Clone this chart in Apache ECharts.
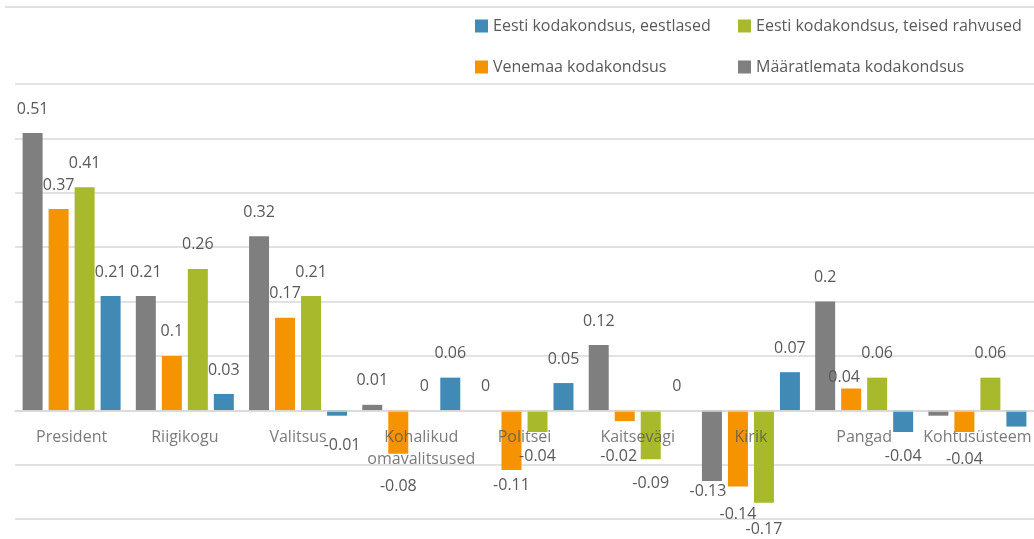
<!DOCTYPE html>
<html>
<head>
<meta charset="utf-8">
<script src="https://cdn.jsdelivr.net/npm/echarts@6/dist/echarts.min.js"></script>
<style>
  html, body { margin: 0; padding: 0; background: #fff; }
  #chart { width: 1034px; height: 539px; }
</style>
</head>
<body>
<div id="chart"></div>
<script>
// Institutions on the category axis
const categories = ['President', 'Riigikogu', 'Valitsus', 'Kohalikud\nomavalitsused', 'Politsei', 'Kaitsevägi', 'Kirik', 'Pangad', 'Kohtusüsteem'];

// Series names (bar order within each group)
const nameUndetermined = 'Määratlemata kodakondsus';
const nameRussian = 'Venemaa kodakondsus';
const nameOtherEthnic = 'Eesti kodakondsus, teised rahvused';
const nameEstonians = 'Eesti kodakondsus, eestlased';

// Values per group
const undetermined = [0.51, 0.21, 0.32, 0.01, 0, 0.12, -0.13, 0.2, -0.01];
const russian = [0.37, 0.1, 0.17, -0.08, -0.11, -0.02, -0.14, 0.04, -0.04];
const otherEthnic = [0.41, 0.26, 0.21, 0, -0.04, -0.09, -0.17, 0.06, 0.06];
const estonians = [0.21, 0.03, -0.01, 0.06, 0.05, 0, 0.07, -0.04, -0.03];

// Value axis range and step
const yMin = -0.2, yMax = 0.6, yStep = 0.1;

const textColor = '#595959';
const gridColor = '#d9d9d9';
const fontFamily = '"Open Sans", sans-serif';

// Hand-placed value labels: [dx, dy] shifts and hidden ones
const labelShift = {
  estonians: { 2: [5, 6] },
  russian: { 3: [0, 9], 4: [0, -9], 5: [-6, 11], 6: [0, 4], 7: [-7, 13], 8: [0, 3] },
  undetermined: { 6: [-4, -14] },
  otherEthnic: { 6: [0, 3] }
};
const labelHidden = { undetermined: [8], estonians: [8] };

function buildData(key, values) {
  return values.map((v, i) => {
    const shift = (labelShift[key] || {})[i] || [0, 0];
    const hidden = (labelHidden[key] || []).indexOf(i) >= 0;
    return {
      value: v,
      label: {
        show: !hidden,
        position: v < 0 ? 'bottom' : 'top',
        offset: shift
      }
    };
  });
}

function barSeries(name, key, values, color) {
  return {
    name: name,
    type: 'bar',
    data: buildData(key, values),
    barWidth: 20,
    barGap: '30%',
    itemStyle: { color: color },
    label: {
      show: true,
      distance: 16,
      color: textColor,
      fontSize: 16,
      fontFamily: fontFamily,
      formatter: p => String(p.value)
    }
  };
}

// Category names drawn just under the zero line, on top of the bars
function categoryLabelSeries() {
  return {
    type: 'scatter',
    silent: true,
    z: 6,
    symbolSize: 0,
    data: categories.map((c, i) => ({
      value: [c, 0],
      label: { offset: i === 3 ? [10, 0] : [0, 0] }
    })),
    label: {
      show: true,
      position: 'bottom',
      distance: 16,
      color: textColor,
      fontSize: 16,
      fontFamily: fontFamily,
      lineHeight: 22,
      align: 'center',
      formatter: p => p.value[0]
    }
  };
}

function legendAt(name, left, top) {
  return {
    data: [name],
    left: left,
    top: top,
    padding: 0,
    itemWidth: 13,
    itemHeight: 13,
    icon: 'rect',
    selectedMode: false,
    textStyle: { color: textColor, fontSize: 16, fontFamily: fontFamily }
  };
}

const chart = echarts.init(document.getElementById('chart'), null, { renderer: 'canvas' });
chart.setOption({
  animation: false,
  backgroundColor: '#fff',
  legend: [
    legendAt(nameEstonians, 475, 18),
    legendAt(nameOtherEthnic, 738, 18),
    legendAt(nameRussian, 475, 59),
    legendAt(nameUndetermined, 738, 59)
  ],
  graphic: [{
    type: 'line',
    shape: { x1: 5, y1: 7, x2: 1034, y2: 7 },
    style: { stroke: gridColor, lineWidth: 1.5 }
  }],
  grid: { left: 15, right: 0, top: 84, bottom: 20, containLabel: false, outerBoundsMode: 'none' },
  xAxis: {
    type: 'category',
    data: categories,
    z: 5,
    axisLine: { onZero: true, lineStyle: { color: gridColor, width: 1.5 } },
    axisTick: { show: false },
    axisLabel: { show: false }
  },
  yAxis: {
    type: 'value',
    min: yMin,
    max: yMax,
    interval: yStep,
    axisLabel: { show: false },
    axisLine: { show: false },
    axisTick: { show: false },
    splitLine: { lineStyle: { color: gridColor, width: 1.5 } }
  },
  series: [
    barSeries(nameUndetermined, 'undetermined', undetermined, '#7f7f7f'),
    barSeries(nameRussian, 'russian', russian, '#f59300'),
    barSeries(nameOtherEthnic, 'otherEthnic', otherEthnic, '#a8b92b'),
    barSeries(nameEstonians, 'estonians', estonians, '#418ab5'),
    categoryLabelSeries()
  ]
});
</script>
</body>
</html>
